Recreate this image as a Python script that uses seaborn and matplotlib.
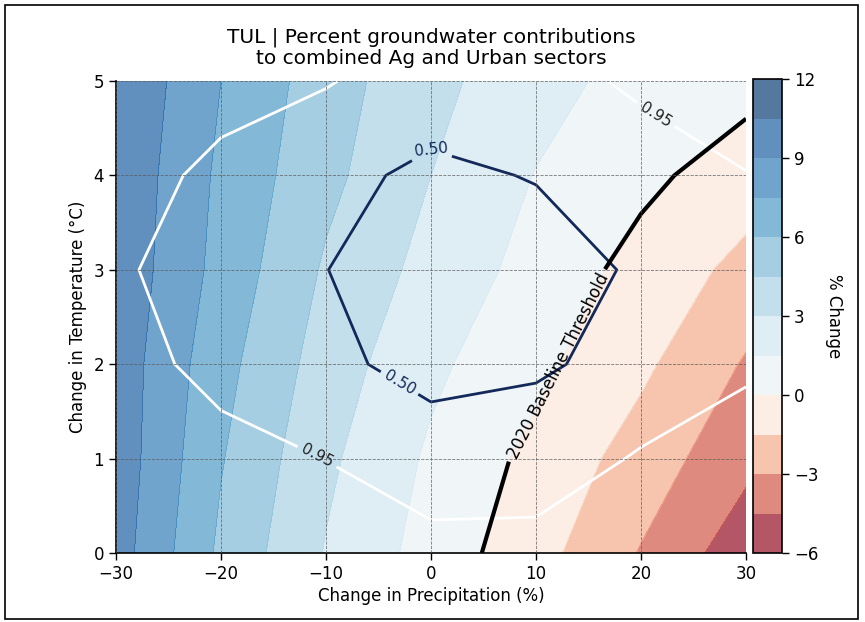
import numpy as np
import matplotlib
matplotlib.use("Agg")
import matplotlib.pyplot as plt
import matplotlib.colors as mcolors
from matplotlib.patches import Rectangle
import seaborn as sns

# Scenario grid: change in precipitation (%) and temperature (deg C)
precip_change = [-30, -20, -10, 0, 10, 20, 30]
temp_change = [0, 1, 2, 3, 4, 5]

# Percent change in groundwater contribution (rows = temperature, cols = precipitation)
pct_change = [
    [9.7, 5.7, 2.9, 0.90, -0.96, -3.10, -5.40],
    [9.9, 6.1, 3.3, 1.26, -0.42, -2.16, -4.10],
    [9.9, 6.5, 3.8, 1.81, 0.36, -1.20, -3.15],
    [10.1, 7.0, 4.3, 2.50, 0.96, -0.51, -1.95],
    [10.2, 7.2, 4.9, 3.00, 1.44, 0.35, -0.75],
    [10.4, 7.5, 5.2, 3.40, 2.10, 0.90, 0.50],
]

# Groundwater share used for the overlaid iso-lines
gw_share = [
    [1.350, 1.250, 1.150, 1.112, 1.103, 1.200, 1.500],
    [1.250, 1.106, 0.945, 0.650, 0.700, 0.995, 1.267],
    [1.141, 0.800, 0.567, 0.400, 0.450, 0.622, 0.850],
    [1.020, 0.700, 0.505, 0.300, 0.320, 0.554, 0.800],
    [1.217, 0.800, 0.606, 0.420, 0.520, 0.750, 0.940],
    [1.300, 1.175, 0.980, 0.716, 0.800, 1.020, 1.140],
]

fill_levels = [-6, -4.5, -3, -1.5, 0, 1.5, 3, 4.5, 6, 7.5, 9, 10.5, 12]
cbar_ticks = [-6, -3, 0, 3, 6, 9, 12]
share_low = [0.50]
share_high = [0.95]
threshold_level = [0]

sns.set_theme(style="ticks", rc={"axes.edgecolor": "black", "xtick.color": "black",
                                 "ytick.color": "black", "axes.labelcolor": "black",
                                 "text.color": "black"})
plt.rcParams["font.family"] = ["DejaVu Sans"]

W, H = 865, 622
fig = plt.figure(figsize=(W / 100, H / 100), dpi=100)
ax = fig.add_axes([116 / W, 1 - 553 / H, (746 - 116) / W, (553 - 81) / H])
cax = fig.add_axes([753 / W, 1 - 553 / H, 29 / W, (553 - 79) / H])

X, Y = np.meshgrid(precip_change, temp_change)
Z = np.array(pct_change)
S = np.array(gw_share)

cmap = sns.color_palette("RdBu", as_cmap=True)
norm = mcolors.TwoSlopeNorm(vmin=-6, vcenter=0, vmax=12)
cf = ax.contourf(X, Y, Z, levels=fill_levels, cmap=cmap, norm=norm, alpha=0.7)

# Iso-lines of groundwater share
cs_low = ax.contour(X, Y, S, levels=share_low, colors="#12295a", linewidths=2)
ax.clabel(cs_low, fmt="%.2f", fontsize=11, inline=True,
          colors="#12295a", manual=[(0.0, 4.3), (-3.0, 1.8)])
cs_high = ax.contour(X, Y, S, levels=share_high, colors="white", linewidths=2)
ax.clabel(cs_high, fmt="%.2f", fontsize=11, inline=True,
          colors="#222222", manual=[(-10.5, 1.1), (22.0, 4.75)])

# Zero-change threshold
ct = ax.contour(X, Y, Z, levels=threshold_level, colors="black", linewidths=3)
ax.clabel(ct, fmt={0: "2020 Baseline Threshold"}, fontsize=12, inline=True,
          colors="black", manual=[(11.8, 2.0)])

ax.set_xlim(-30, 30)
ax.set_ylim(0, 5)
ax.set_xticks([-30, -20, -10, 0, 10, 20, 30])
ax.set_yticks([0, 1, 2, 3, 4, 5])
ax.tick_params(labelsize=12, length=5, width=1)
ax.grid(True, linestyle="--", color="0.35", linewidth=0.6, alpha=0.8)
ax.set_axisbelow(False)
sns.despine(ax=ax)
for sp in ("left", "bottom"):
    ax.spines[sp].set_linewidth(1.2)

ax.set_xlabel("Change in Precipitation (%)", fontsize=12, labelpad=3)
ax.set_ylabel("Change in Temperature (°C)", fontsize=12, labelpad=5)
ax.set_title("TUL | Percent groundwater contributions\nto combined Ag and Urban sectors",
             fontsize=14.5, pad=12, linespacing=1.15)

cb = fig.colorbar(cf, cax=cax, ticks=cbar_ticks)
cb.set_label("% Change", rotation=270, labelpad=18, fontsize=12)
cb.ax.tick_params(labelsize=12, length=5, width=1)
cb.outline.set_linewidth(1.2)
cb.outline.set_edgecolor("black")

fig.patches.append(Rectangle((5 / W, 3 / H), (858 - 5) / W, (619 - 5) / H,
                             transform=fig.transFigure, fill=False,
                             edgecolor="black", linewidth=1.2))

fig.savefig("out.png", dpi=100)
